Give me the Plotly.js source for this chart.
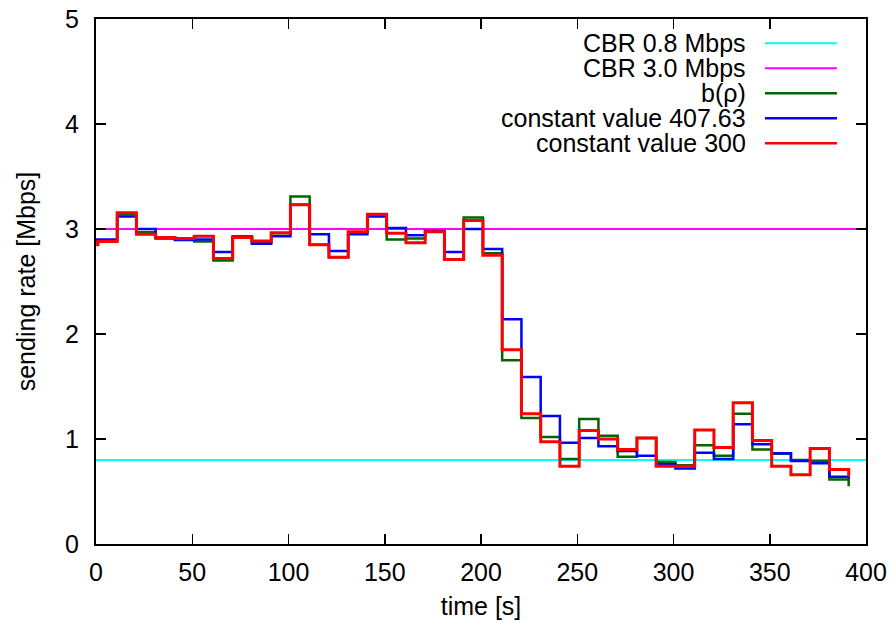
<!DOCTYPE html>
<html>
<head>
<meta charset="utf-8">
<script src="https://cdn.plot.ly/plotly-3.0.1.min.js"></script>
<style>
  html, body { margin: 0; padding: 0; background: #fff; }
  #chart { width: 896px; height: 625px; }
</style>
</head>
<body>
<div id="chart"></div>
<script>
// time stamps of the step series [s]
var timeS = [-9, 1, 11, 21, 31, 41, 51, 61, 71, 81, 91,
  101, 111, 121, 131, 141, 151, 161, 171, 181, 191,
  201, 211, 221, 231, 241, 251, 261, 271, 281, 291,
  301, 311, 321, 331, 341, 351, 361, 371, 381, 391];

// b(rho)
var bRho = [2.88, 2.89, 3.14, 2.97, 2.92, 2.90, 2.88, 2.70, 2.93, 2.87, 2.96,
  3.31, 2.85, 2.73, 2.97, 3.14, 2.90, 2.91, 2.98, 2.71, 3.11,
  2.77, 1.75, 1.20, 1.02, 0.81, 1.19, 1.03, 0.83, 1.01, 0.78,
  0.75, 0.94, 0.84, 1.24, 0.90, 0.86, 0.80, 0.79, 0.615, 0.55];

// constant value 407.63
var const407 = [2.90, 2.90, 3.12, 3.00, 2.91, 2.895, 2.90, 2.78, 2.92, 2.86, 2.93,
  3.23, 2.95, 2.79, 2.95, 3.12, 3.01, 2.94, 2.98, 2.78, 3.00,
  2.81, 2.14, 1.59, 1.22, 0.965, 1.01, 0.93, 0.885, 0.84, 0.76,
  0.72, 0.87, 0.81, 1.14, 0.95, 0.865, 0.79, 0.77, 0.64, 0.62];

// constant value 300
var const300 = [2.85, 2.88, 3.155, 2.95, 2.92, 2.91, 2.93, 2.72, 2.92, 2.885, 2.965,
  3.23, 2.85, 2.73, 2.975, 3.14, 2.96, 2.87, 2.975, 2.71, 3.08,
  2.75, 1.85, 1.24, 0.975, 0.74, 1.08, 1.00, 0.90, 1.01, 0.74,
  0.74, 1.085, 0.92, 1.345, 0.985, 0.74, 0.66, 0.91, 0.71, 0.64];

// constant bit rate references
var cbrRange = [0, 400];
var cbrLow = [0.8, 0.8];
var cbrHigh = [3.0, 3.0];

var seriesNames = ["CBR 0.8 Mbps", "CBR 3.0 Mbps", "b(\u03c1)", "constant value 407.63", "constant value 300"];
var seriesColors = ["#00ffff", "#ff00ff", "#006400", "#0000ff", "#ff0000"];

var xTicks = [0, 50, 100, 150, 200, 250, 300, 350, 400];
var yTicks = [0, 1, 2, 3, 4, 5];

var FONT = "Liberation Sans, Arial, Helvetica, sans-serif";
var FS = 25;

var traces = [
  {x: cbrRange, y: cbrLow, mode: "lines", name: seriesNames[0], line: {color: seriesColors[0], width: 2}},
  {x: cbrRange, y: cbrHigh, mode: "lines", name: seriesNames[1], line: {color: seriesColors[1], width: 2}},
  {x: timeS, y: bRho, mode: "lines", name: seriesNames[2], line: {color: seriesColors[2], width: 2.5, shape: "hv"}},
  {x: timeS, y: const407, mode: "lines", name: seriesNames[3], line: {color: seriesColors[3], width: 2.5, shape: "hv"}},
  {x: timeS, y: const300, mode: "lines", name: seriesNames[4], line: {color: seriesColors[4], width: 3, shape: "hv"}}
];

// manual legend (text right-aligned, sample line on the right)
var legTextX = 0.8468, legLineX0 = 0.8688, legLineX1 = 0.9623;
var legY0 = 0.9537, legDy = 0.0476;
var annotations = [], shapes = [];
seriesNames.forEach(function (nm, i) {
  var yy = legY0 - i * legDy;
  annotations.push({
    xref: "paper", yref: "paper", x: legTextX, y: yy,
    xanchor: "right", yanchor: "middle", showarrow: false,
    text: nm, font: {family: FONT, size: FS, color: "#000"}
  });
  shapes.push({
    type: "line", xref: "paper", yref: "paper",
    x0: legLineX0, x1: legLineX1, y0: yy, y1: yy,
    line: {color: seriesColors[i], width: i >= 2 ? 2.5 : 2}
  });
});

var layout = {
  width: 896, height: 625,
  margin: {l: 96, r: 30, t: 19, b: 81, pad: 0},
  paper_bgcolor: "#fff", plot_bgcolor: "#fff",
  showlegend: false,
  font: {family: FONT, size: FS, color: "#000"},
  xaxis: {
    range: [0, 400], tickvals: xTicks, ticktext: xTicks.map(String),
    ticks: "inside", ticklen: 10, tickwidth: 1.5, tickcolor: "#000",
    showline: true, linecolor: "#000", linewidth: 2, mirror: "ticks",
    showgrid: false, zeroline: false, ticklabelstandoff: 5,
    tickfont: {family: FONT, size: FS, color: "#000"},
    title: {text: "time [s]", font: {family: FONT, size: FS, color: "#000"}, standoff: 12}
  },
  yaxis: {
    range: [0, 5], tickvals: yTicks, ticktext: yTicks.map(String),
    ticks: "inside", ticklen: 10, tickwidth: 1.5, tickcolor: "#000",
    showline: true, linecolor: "#000", linewidth: 2, mirror: "ticks",
    showgrid: false, zeroline: false, ticklabelstandoff: 10,
    tickfont: {family: FONT, size: FS, color: "#000"},
    title: {text: "sending rate [Mbps]", font: {family: FONT, size: FS, color: "#000"}, standoff: 22}
  },
  annotations: annotations,
  shapes: shapes
};

Plotly.newPlot("chart", traces, layout, {staticPlot: true, displayModeBar: false});
</script>
</body>
</html>
